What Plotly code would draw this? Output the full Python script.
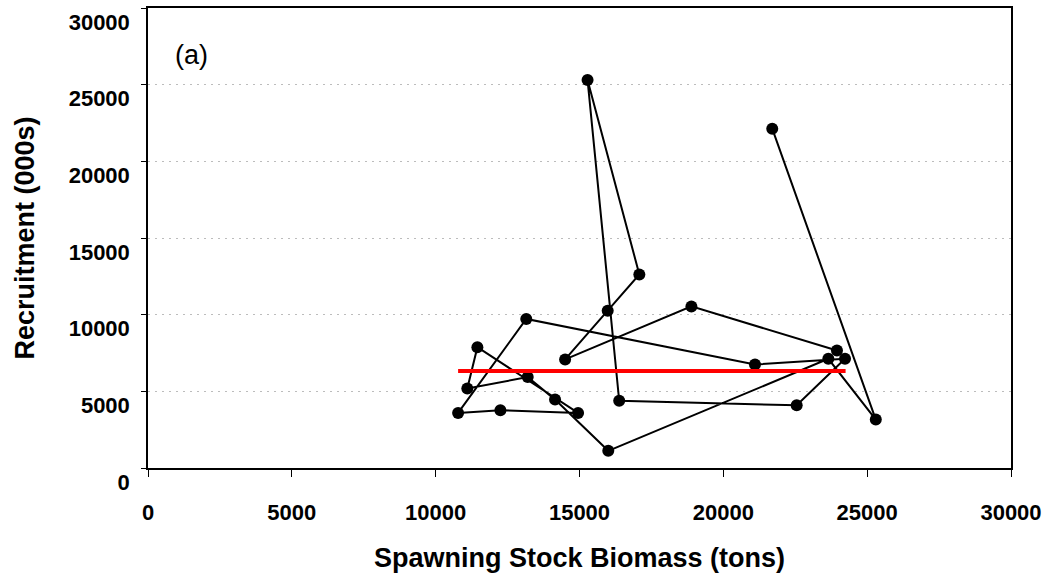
import plotly.graph_objects as go

# Spawning stock biomass (tons) and recruitment (000s), in plotted (connected) order
ssb = [21700, 25300, 23650, 16000, 14150, 13200, 11100, 11450, 14950, 12250, 10780,
       13150, 21100, 24230, 22550, 16380, 15280, 17080, 15980, 14500, 18890, 23950]
recruits = [22130, 3160, 7120, 1120, 4460, 5930, 5180, 7880, 3590, 3770, 3590,
            9720, 6750, 7120, 4090, 4380, 25310, 12620, 10260, 7080, 10540, 7660]

# Reference recruitment level (red line)
ref_ssb = [10780, 24250]
ref_rec = [6320, 6320]

x_ticks = [0, 5000, 10000, 15000, 20000, 25000, 30000]
y_ticks = [0, 5000, 10000, 15000, 20000, 25000, 30000]
x_title = "Spawning Stock Biomass (tons)"
y_title = "Recruitment (000s)"
panel_label = "(a)"

FONT = "Liberation Sans, Arial, sans-serif"

fig = go.Figure()
fig.add_trace(go.Scatter(
    x=ssb, y=recruits, mode="lines+markers",
    line=dict(color="black", width=2),
    marker=dict(color="black", size=12),
    showlegend=False, hoverinfo="x+y"))
fig.add_trace(go.Scatter(
    x=ref_ssb, y=ref_rec, mode="lines",
    line=dict(color="#ff0000", width=4),
    showlegend=False))

fig.update_layout(
    width=1048, height=579,
    margin=dict(l=148, r=33, t=6, b=111),
    paper_bgcolor="white", plot_bgcolor="white",
    font=dict(family=FONT, color="black"),
    xaxis=dict(
        range=[0, 30000], tickvals=x_ticks, ticktext=[str(v) for v in x_ticks],
        ticks="outside", ticklen=7, tickwidth=1, tickcolor="black",
        showline=True, linecolor="black", linewidth=1.5, mirror=True,
        showgrid=False, zeroline=False,
        tickfont=dict(family=FONT, size=22, weight="bold"),
        ticklabelstandoff=17,
        title=dict(text=x_title, font=dict(family=FONT, size=27, weight="bold"), standoff=24),
    ),
    yaxis=dict(
        range=[0, 30000], tickvals=y_ticks, ticktext=[str(v) for v in y_ticks],
        ticks="outside", ticklen=5, tickwidth=1, tickcolor="black",
        showline=True, linecolor="black", linewidth=1.5, mirror=True,
        showgrid=True, gridcolor="#bcbcbc", gridwidth=1, griddash="2px,5px",
        zeroline=False,
        tickfont=dict(family=FONT, size=22, weight="bold"),
        ticklabelshift=14, ticklabelstandoff=7,
        title=dict(text=y_title, font=dict(family=FONT, size=27, weight="bold"), standoff=26),
    ),
    annotations=[dict(
        text=panel_label, xref="paper", yref="paper",
        x=0.0508, y=0.897, xanchor="center", yanchor="middle",
        showarrow=False, font=dict(family=FONT, size=27, color="black"))],
)

fig.write_html("out.html", config={"displayModeBar": False},
               post_script="document.body.style.margin='0px';")
